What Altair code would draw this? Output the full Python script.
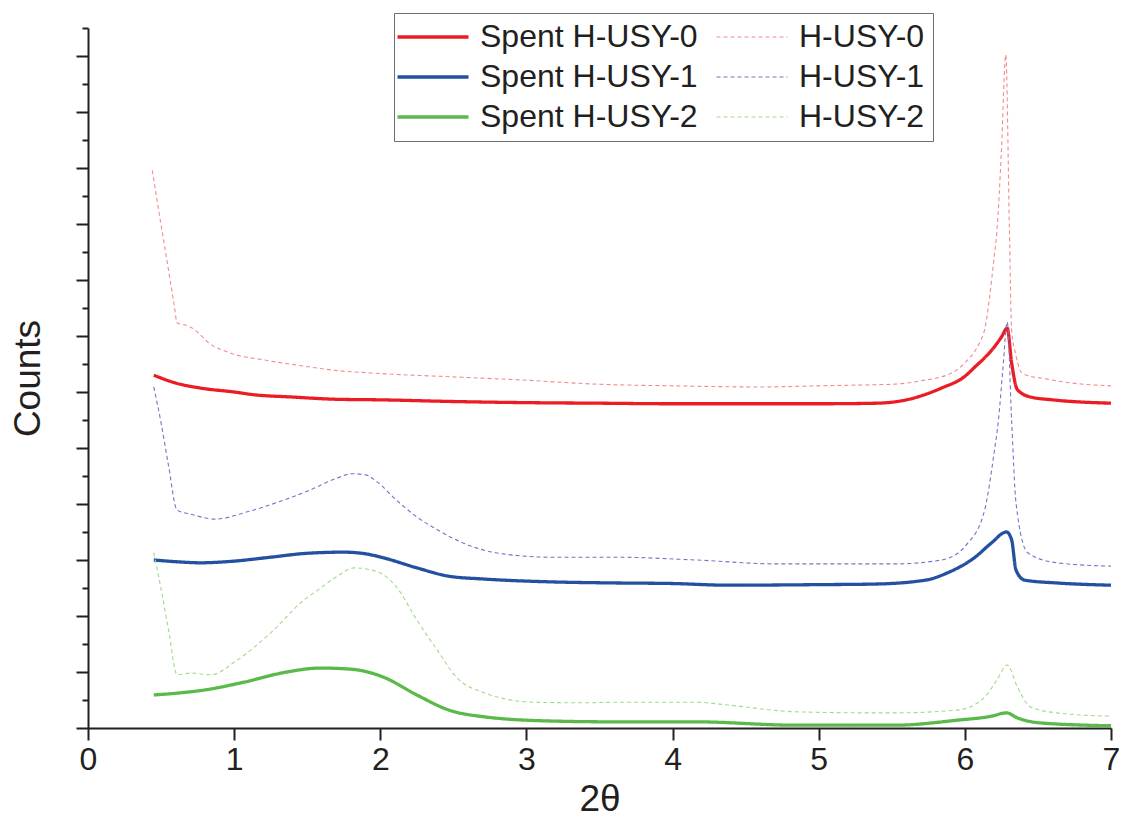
import altair as alt
import pandas as pd

series_order = ["Spent H-USY-0", "Spent H-USY-1", "Spent H-USY-2", "H-USY-0", "H-USY-1", "H-USY-2"]

s0_x = [0.45, 0.6, 0.77, 1.0, 1.14, 1.4, 1.7, 2.0, 2.5, 3.0, 3.5, 4.0, 4.6, 5.0, 5.4, 5.6, 5.84, 6.0, 6.07, 6.15, 6.2, 6.25, 6.29, 6.32, 6.36, 6.45, 6.6, 7.0]
s0_y = [6.30, 6.16, 6.07, 6.00, 5.95, 5.91, 5.87, 5.86, 5.83, 5.81, 5.80, 5.79, 5.79, 5.79, 5.80, 5.86, 6.07, 6.28, 6.45, 6.65, 6.80, 6.98, 7.14, 6.52, 6.04, 5.91, 5.86, 5.80]

h0_x = [0.44, 0.48, 0.52, 0.56, 0.59, 0.61, 0.66, 0.70, 0.75, 0.82, 0.97, 1.21, 1.43, 1.68, 2.0, 2.5, 3.0, 3.48, 4.0, 4.61, 5.0, 5.38, 5.52, 5.7, 5.91, 6.0, 6.1, 6.135, 6.2, 6.22, 6.25, 6.28, 6.305, 6.32, 6.35, 6.39, 6.45, 6.52, 6.7, 7.0]
h0_y = [9.96, 9.30, 8.67, 8.03, 7.55, 7.23, 7.20, 7.16, 7.07, 6.89, 6.70, 6.57, 6.48, 6.39, 6.33, 6.27, 6.21, 6.14, 6.11, 6.09, 6.11, 6.13, 6.14, 6.20, 6.34, 6.52, 6.88, 7.11, 8.40, 8.89, 10.3, 12.02, 8.89, 7.11, 6.65, 6.34, 6.28, 6.25, 6.17, 6.11]

s1_x = [0.45, 0.6, 0.77, 1.0, 1.25, 1.5, 1.75, 1.9, 2.02, 2.25, 2.47, 2.71, 3.16, 3.61, 4.0, 4.38, 5.0, 5.38, 5.73, 5.88, 6.07, 6.18, 6.285, 6.32, 6.35, 6.41, 6.63, 7.0]
s1_y = [3.00, 2.97, 2.95, 2.98, 3.05, 3.12, 3.14, 3.11, 3.04, 2.86, 2.71, 2.66, 2.61, 2.59, 2.58, 2.55, 2.56, 2.57, 2.64, 2.77, 3.05, 3.30, 3.50, 3.36, 2.82, 2.64, 2.59, 2.55]

h1_x = [0.45, 0.5, 0.55, 0.61, 0.7, 0.87, 1.09, 1.34, 1.52, 1.70, 1.81, 1.90, 1.98, 2.11, 2.25, 2.39, 2.57, 2.79, 3.16, 3.61, 4.16, 4.72, 5.0, 5.52, 5.84, 6.02, 6.135, 6.20, 6.23, 6.26, 6.29, 6.32, 6.35, 6.43, 6.63, 7.0]
h1_y = [6.09, 5.45, 4.70, 3.89, 3.82, 3.73, 3.86, 4.07, 4.25, 4.46, 4.54, 4.52, 4.39, 4.07, 3.77, 3.54, 3.30, 3.13, 3.05, 3.05, 3.00, 2.93, 2.93, 2.93, 3.00, 3.30, 3.89, 4.91, 5.50, 6.40, 7.25, 5.50, 4.02, 3.13, 2.95, 2.89]

s2_x = [0.45, 0.6, 0.8, 1.07, 1.36, 1.59, 1.80, 2.02, 2.25, 2.47, 2.71, 3.16, 3.61, 4.16, 4.84, 5.52, 5.95, 6.18, 6.285, 6.36, 6.52, 7.0]
s2_y = [0.59, 0.62, 0.68, 0.82, 1.00, 1.07, 1.05, 0.91, 0.59, 0.32, 0.20, 0.125, 0.11, 0.11, 0.05, 0.05, 0.14, 0.21, 0.27, 0.18, 0.09, 0.04]

h2_x = [0.45, 0.5, 0.55, 0.61, 0.7, 0.84, 1.02, 1.25, 1.48, 1.57, 1.70, 1.82, 1.98, 2.11, 2.25, 2.39, 2.52, 2.71, 3.05, 3.39, 3.61, 4.16, 4.38, 4.84, 5.38, 5.52, 5.95, 6.135, 6.22, 6.29, 6.36, 6.45, 6.63, 7.0]
h2_y = [3.13, 2.48, 1.77, 0.95, 0.98, 0.95, 1.21, 1.70, 2.29, 2.46, 2.70, 2.86, 2.79, 2.52, 1.93, 1.39, 0.91, 0.63, 0.46, 0.45, 0.46, 0.46, 0.41, 0.29, 0.27, 0.27, 0.32, 0.55, 0.86, 1.125, 0.73, 0.375, 0.27, 0.21]

x_ticks = [0, 0.5, 1, 1.5, 2, 2.5, 3, 3.5, 4, 4.5, 5, 5.5, 6, 6.5, 7]
y_ticks = [i * 0.5 for i in range(26)]

colors = ["#ec1c24", "#2450a2", "#5ab948", "#f28c8c", "#7376c6", "#a3d98c"]
dashes = [[1, 0], [1, 0], [1, 0], [4, 3], [4, 3], [4, 3]]
widths = [3.3, 3.3, 3.3, 1.1, 1.1, 1.1]

pairs = [(s0_x, s0_y), (s1_x, s1_y), (s2_x, s2_y), (h0_x, h0_y), (h1_x, h1_y), (h2_x, h2_y)]
rows = []
for name, (xs, ys) in zip(series_order, pairs):
    for xv, yv in zip(xs, ys):
        rows.append({"series": name, "x": xv, "y": yv})
df = pd.DataFrame(rows)

INK = "#231f20"
FONT = "Liberation Sans"
major = {"condition": {"test": "datum.value % 1 === 0", "value": 12}, "value": 6}

chart = alt.Chart(df).mark_line(interpolate="monotone").encode(
    x=alt.X("x:Q", scale=alt.Scale(domain=[0, 7], nice=False, zero=False),
            axis=alt.Axis(values=x_ticks, title="2θ", format="d",
                          labelExpr="datum.value % 1 === 0 ? datum.label : ''",
                          tickSize=major, labelFlush=False,
                          labelFontSize=32, labelPadding=4, titleFontSize=37, titlePadding=6,
                          labelOverlap=False, grid=False)),
    y=alt.Y("y:Q", scale=alt.Scale(domain=[0, 12.5], nice=False, zero=False),
            axis=alt.Axis(values=y_ticks, title="Counts", labels=False,
                          tickSize=major,
                          titleFontSize=37, titlePadding=28, grid=False)),
    color=alt.Color("series:N", sort=series_order,
                    scale=alt.Scale(domain=series_order, range=colors),
                    legend=alt.Legend(title=None, orient="none", legendX=306, legendY=-15,
                                      columns=2, symbolType="M-3.55,0L3.55,0", symbolSize=400,
                                      symbolOffset=15, labelOffset=31,
                                      labelFontSize=32, labelFont=FONT, labelColor=INK,
                                      labelLimit=500, columnPadding=16, rowPadding=8,
                                      padding=8, strokeColor="#6d6e71", fillColor="white")),
    strokeDash=alt.StrokeDash("series:N", sort=series_order,
                              scale=alt.Scale(domain=series_order, range=dashes), legend=None),
    strokeWidth=alt.StrokeWidth("series:N", sort=series_order,
                                scale=alt.Scale(type="ordinal", domain=series_order, range=widths),
                                legend=None),
).properties(
    width=1023, height=700,
    autosize=alt.AutoSizeParams(type="none"),
    padding={"left": 80, "top": 20, "right": 9, "bottom": 92},
).configure_view(stroke=None).configure_axis(
    domainColor=INK, domainWidth=2, tickColor=INK, tickWidth=2,
    labelColor=INK, titleColor=INK, labelFont=FONT, titleFont=FONT, titleFontWeight="normal",
)

chart.save("out.html", embed_options={"renderer": "svg", "actions": False})
